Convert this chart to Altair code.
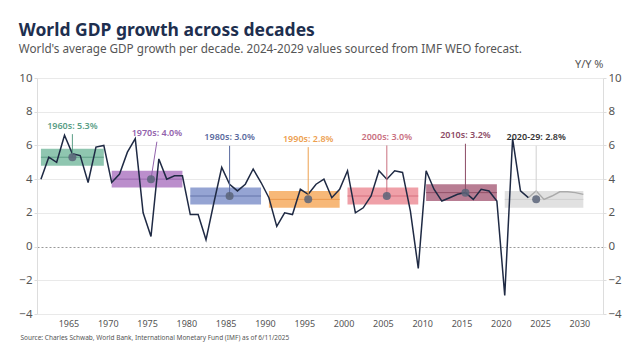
import altair as alt
import pandas as pd

# ---- data ----
years = list(range(1961, 2031))
growth = [4.0, 5.3, 5.0, 6.6, 5.5, 5.4, 3.8, 5.9, 6.0,            # 1961-1969
          3.8, 4.3, 5.6, 6.4, 2.0, 0.6, 5.2, 4.0, 4.2, 4.2,       # 1970s
          1.9, 1.9, 0.4, 2.6, 4.7, 3.7, 3.3, 3.7, 4.6, 3.8,       # 1980s
          2.9, 1.2, 2.0, 1.9, 3.4, 3.1, 3.7, 4.0, 2.9, 3.4,       # 1990s
          4.5, 2.0, 2.3, 3.0, 4.5, 4.0, 4.5, 4.4, 2.1, -1.3,      # 2000s
          4.5, 3.4, 2.7, 2.9, 3.1, 3.2, 2.8, 3.4, 3.3, 2.7,       # 2010s
          -2.9, 6.4, 3.3, 2.9, 3.3, 2.8, 3.0, 3.25, 3.25, 3.2, 3.1]  # 2020-2030
last_actual_year = 2023

decade_names = ["1960s", "1970s", "1980s", "1990s", "2000s", "2010s", "2020-29"]
decade_avg = [5.3, 4.0, 3.0, 2.8, 3.0, 3.2, 2.8]
decade_start = [1961, 1970, 1980, 1990, 2000, 2010, 2020]
decade_end = [1969, 1979, 1989, 1999, 2009, 2019, 2030]
dot_year = [1965, 1975, 1985, 1995, 2005, 2015, 2024]
label_year = [1965, 1975.75, 1985, 1995, 2005, 2015, 2024]
label_value = [7.17, 6.72, 6.48, 6.4, 6.5, 6.6, 6.48]

# ---- styles ----
box_colors = ["#8fc6b0", "#bb8ecc", "#95a4d3", "#f7b878", "#efa0a8", "#b87d93", "#e1e1e1"]
mean_colors = ["#5f9e87", "#9868ad", "#6474aa", "#eb9a4e", "#d5717f", "#925069", "#cfcfcf"]
text_colors = ["#5a9e86", "#9262ac", "#5a6a9e", "#eda04f", "#c9707f", "#8c4b65", "#333333"]
leader_colors = ["#5a9e86", "#9262ac", "#5a6a9e", "#eda04f", "#c9707f", "#8c4b65", "#d0d0d0"]

FONT = "Noto Sans"

hist = pd.DataFrame({"year": years, "growth": growth})
actual_df = hist[hist.year <= last_actual_year]
forecast_df = hist[hist.year >= last_actual_year]

dec = pd.DataFrame({
    "name": decade_names, "avg": decade_avg, "start": decade_start, "end": decade_end,
    "dot": dot_year, "lx": label_year, "ly": label_value,
    "box_c": box_colors, "mean_c": mean_colors, "text_c": text_colors, "lead_c": leader_colors,
})
dec["label"] = [f"{n}: {a:.1f}%" for n, a in zip(decade_names, decade_avg)]

xscale = alt.Scale(domain=[1961, 2033], nice=False, zero=False)
yscale = alt.Scale(domain=[-4, 10], nice=False, zero=False)

xaxis = alt.Axis(values=list(range(1965, 2031, 5)), format="d", grid=False, domain=False,
                 ticks=False, labelFontSize=9, labelColor="#555555", labelPadding=5,
                 labelFont=FONT,
                 title="Source: Charles Schwab, World Bank, International Monetary Fund (IMF) as of 6/11/2025",
                 titleX=-17, titleY=23, titleAlign="left", titleBaseline="middle",
                 titleFontSize=6.5, titleFontWeight="normal", titleColor="#555555", titleFont=FONT)

ycommon = dict(values=list(range(-4, 11, 2)), domain=True, domainColor="#dddddd",
               tickColor="#dddddd", tickSize=3, labelColor="#555555", labelFontSize=11.5,
               labelPadding=2, labelFont=FONT)
yleft = alt.Axis(orient="left", title=None, grid=True,
                 gridColor={"condition": {"test": "datum.value === 0", "value": "#999999"}, "value": "#e9e9e9"},
                 gridDash={"condition": {"test": "datum.value === 0", "value": [2, 2]}, "value": []},
                 **ycommon)
yright = alt.Axis(orient="right", grid=False, title="Y/Y %", titleAngle=0, titleX=0, titleY=-14,
                  titleAlign="right", titleBaseline="middle", titleFontWeight="normal",
                  titleColor="#555555", titleFontSize=11, titleFont=FONT, **ycommon)

base_dec = alt.Chart(dec).transform_calculate(
    x0="datum.start + 0.5", x1="datum.end + 0.5",
    ylo="datum.avg - 0.5", yhi="datum.avg + 0.5",
    xd="datum.dot + 0.5", xl="datum.lx + 0.5", ytop="datum.ly - 0.5",
)

boxes = base_dec.mark_rect().encode(
    x=alt.X("x0:Q", scale=xscale, axis=xaxis), x2="x1:Q",
    y=alt.Y("ylo:Q", scale=yscale, axis=None), y2="yhi:Q",
    fill=alt.Fill("box_c:N", scale=None),
)

means = base_dec.mark_rule(strokeWidth=1).encode(
    x=alt.X("x0:Q", scale=xscale, axis=xaxis), x2="x1:Q",
    y=alt.Y("avg:Q", scale=yscale, axis=None),
    color=alt.Color("mean_c:N", scale=None),
)

forecast_line = alt.Chart(forecast_df).transform_calculate(xs="datum.year + 0.5").mark_line(
    color="#aaaaaa", strokeWidth=1.4).encode(
    x=alt.X("xs:Q", scale=xscale, axis=xaxis),
    y=alt.Y("growth:Q", scale=yscale, axis=None),
)

actual_line = alt.Chart(actual_df).transform_calculate(xs="datum.year + 0.5").mark_line(
    color="#1f2a44", strokeWidth=1.5).encode(
    x=alt.X("xs:Q", scale=xscale, axis=xaxis),
    y=alt.Y("growth:Q", scale=yscale, axis=yleft),
)

leaders = base_dec.mark_rule(strokeWidth=1).encode(
    x=alt.X("xl:Q", scale=xscale, axis=xaxis), x2="xd:Q",
    y=alt.Y("ytop:Q", scale=yscale, axis=None), y2="avg:Q",
    color=alt.Color("lead_c:N", scale=None),
)

dots = base_dec.mark_circle(size=64, opacity=0.85, color="#5a6479").encode(
    x=alt.X("xd:Q", scale=xscale, axis=xaxis),
    y=alt.Y("avg:Q", scale=yscale, axis=yright),
)

labels = base_dec.mark_text(fontSize=9, fontWeight=600, baseline="middle", align="center",
                            font=FONT).encode(
    x=alt.X("xl:Q", scale=xscale, axis=xaxis),
    y=alt.Y("ly:Q", scale=yscale, axis=None),
    text="label:N",
    color=alt.Color("text_c:N", scale=None),
)

chart = alt.layer(boxes, means, forecast_line, actual_line, leaders, dots, labels).resolve_axis(
    y="independent"
).properties(
    width=566, height=236,
    autosize="none",
    padding={"left": 29, "top": 70, "right": 25, "bottom": 30},
    title=alt.Title(
        "World GDP growth across decades",
        subtitle="World's average GDP growth per decade. 2024-2029 values sourced from IMF WEO forecast.",
        anchor="start", dx=0, offset=2, fontSize=17.5, font=FONT, fontWeight="bold",
        color="#1e2f4f", subtitleFontSize=11.7, subtitleColor="#555555", subtitleFont=FONT,
        subtitlePadding=5,
    ),
).configure_view(stroke=None)

chart.save("out.html", embed_options={"renderer": "svg", "actions": False})
